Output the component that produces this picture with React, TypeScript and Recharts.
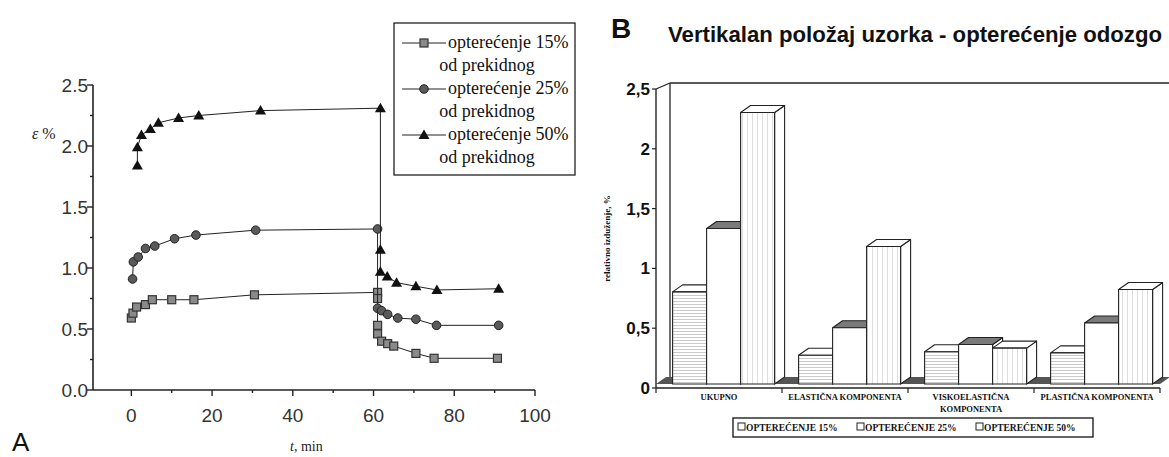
import React from "react";
import { ScatterChart, Scatter, XAxis, YAxis, BarChart, Bar } from "recharts";

// ---- A: deformation vs. time
const T_15 = [0, 0.4, 1.3, 3.5, 5.2, 10, 15.5, 30.5, 61, 61, 61, 61, 62, 63.5, 65, 70.5, 75, 90.7];
const E_15 = [0.59, 0.63, 0.68, 0.7, 0.74, 0.74, 0.74, 0.78, 0.8, 0.75, 0.53, 0.46, 0.4, 0.38, 0.36, 0.3, 0.26, 0.26];

const T_25 = [0.3, 0.5, 1.7, 3.5, 5.8, 10.7, 16, 30.8, 61, 61, 62, 63.5, 66, 70.5, 75.6, 91];
const E_25 = [0.91, 1.05, 1.09, 1.16, 1.18, 1.24, 1.27, 1.31, 1.32, 0.67, 0.65, 0.62, 0.59, 0.58, 0.53, 0.53];

const T_50 = [1.5, 1.5, 2.5, 4.7, 6.7, 11.7, 16.7, 32, 61.7, 61.7, 61.7, 63.4, 65.7, 70.5, 75.7, 91];
const E_50 = [1.84, 1.99, 2.09, 2.14, 2.19, 2.23, 2.25, 2.29, 2.31, 1.15, 0.97, 0.93, 0.88, 0.85, 0.82, 0.83];

const LABELS_A = ["opterećenje 15%", "opterećenje 25%", "opterećenje 50%"];
const MARKERS_A = ["square", "circle", "triangle"];

const X_TICKS_A = [0, 10, 20, 30, 40, 50, 60, 70, 80, 90, 100];
const X_LABELS_A = [0, 20, 40, 60, 80, 100];
const Y_TICKS_A = [0, 0.25, 0.5, 0.75, 1, 1.25, 1.5, 1.75, 2, 2.25, 2.5];
const Y_LABELS_A = [0, 0.5, 1, 1.5, 2, 2.5];

// ---- B: relative strain components
const CATEGORIES = ["UKUPNO", "ELASTIČNA KOMPONENTA", "VISKOELASTIČNA KOMPONENTA", "PLASTIČNA KOMPONENTA"];
const CATEGORY_LINES = [["UKUPNO"], ["ELASTIČNA KOMPONENTA"], ["VISKOELASTIČNA", "KOMPONENTA"], ["PLASTIČNA KOMPONENTA"]];
const LOAD_15 = [0.77, 0.24, 0.27, 0.26];
const LOAD_25 = [1.3, 0.47, 0.33, 0.51];
const LOAD_50 = [2.27, 1.15, 0.3, 0.79];
const LABELS_B = ["OPTEREĆENJE 15%", "OPTEREĆENJE 25%", "OPTEREĆENJE 50%"];
const Y_TICKS_B = [0, 0.5, 1, 1.5, 2, 2.5];

const SANS = "'Liberation Sans', Arial, sans-serif";
const SERIF = "'Liberation Serif', 'Times New Roman', serif";
const INK = "#222";

const seriesA = [T_15, T_25, T_50].map((ts, i) =>
  ts.map((t, j) => ({ t, e: [E_15, E_25, E_50][i][j] }))
);

const dataB = CATEGORIES.map((name, i) => ({
  name,
  s15: LOAD_15[i],
  s25: LOAD_25[i],
  s50: LOAD_50[i],
}));

// layout
const A_W = 580;
const A_H = 457;
const A_MARGIN = { top: 85, right: 45, bottom: 37, left: 33 };

const B_LEFT = 580;
const B_W = 589;
const B_H = 457;
const B_MARGIN = { top: 89, right: 9, bottom: 39, left: 20 };
const B_YW = 56;
const B_XH = 30;
const B_L = B_LEFT + B_MARGIN.left + B_YW;
const B_R = B_LEFT + B_W - B_MARGIN.right;
const B_T = B_MARGIN.top;
const B_B = B_H - B_MARGIN.bottom - B_XH;
const BAND_B = (B_R - B_L) / CATEGORIES.length;

function marker(kind: string, cx: number, cy: number) {
  if (kind === "square")
    return <rect x={cx - 4} y={cy - 4} width={8} height={8} fill="#8a8a8a" stroke="#333" strokeWidth={1.2} />;
  if (kind === "circle")
    return <circle cx={cx} cy={cy} r={4.3} fill="#5a5a5a" stroke="#222" strokeWidth={1} />;
  return <polygon points={`${cx},${cy - 5.5} ${cx + 5.5},${cy + 4} ${cx - 5.5},${cy + 4}`} fill="#111" />;
}

function TickXA(props: any) {
  const { x, y, payload } = props;
  const major = X_LABELS_A.includes(payload.value);
  return (
    <g>
      <line x1={x} y1={y} x2={x} y2={y + (major ? 6 : 3)} stroke={INK} strokeWidth={1.4} />
      {major && (
        <text x={x} y={y + 32} textAnchor="middle" fontSize={19} fill="#333" fontFamily={SANS}>
          {payload.value}
        </text>
      )}
    </g>
  );
}

function TickYA(props: any) {
  const { x, y, payload } = props;
  const major = Y_LABELS_A.includes(payload.value);
  return (
    <g>
      <line x1={x - (major ? 6 : 3)} y1={y} x2={x} y2={y} stroke={INK} strokeWidth={1.4} />
      {major && (
        <text x={x - 5} y={y + 7} textAnchor="end" fontSize={19} fill="#333" fontFamily={SANS}>
          {payload.value.toFixed(1)}
        </text>
      )}
    </g>
  );
}

function TickXB(props: any) {
  const { x, y, index } = props;
  const lines = CATEGORY_LINES[index] || [];
  return (
    <g>
      <line x1={x - BAND_B / 2} y1={y} x2={x - BAND_B / 2} y2={y + 5} stroke={INK} strokeWidth={1.2} />
      {index === CATEGORIES.length - 1 && (
        <line x1={x + BAND_B / 2} y1={y} x2={x + BAND_B / 2} y2={y + 5} stroke={INK} strokeWidth={1.2} />
      )}
      {lines.map((s, k) => (
        <text key={k} x={x} y={y + 12 + k * 12} textAnchor="middle" fontSize={8.5} fontWeight="bold" fill="#111" fontFamily={SERIF}>
          {s}
        </text>
      ))}
    </g>
  );
}

function TickYB(props: any) {
  const { x, y, payload } = props;
  return (
    <g>
      <line x1={x - 4} y1={y} x2={x} y2={y} stroke={INK} strokeWidth={1.2} />
      <text x={x - 6} y={y + 6} textAnchor="end" fontSize={17} fontWeight="bold" fill="#111" fontFamily={SANS}>
        {String(payload.value).replace(".", ",")}
      </text>
    </g>
  );
}

// pseudo-3D box, like the old spreadsheet chart
const LIFT = 4;
const SHIFT = 4;
const DX = 10;
const DY = 7;

function makeBox(front: string, top: string) {
  return (p: any) => {
    const { x, y, width: w, height: h } = p;
    if (w == null || h == null) return <g />;
    const fx = x + SHIFT;
    const fy = y - LIFT;
    return (
      <g stroke={INK} strokeWidth={1.1} strokeLinejoin="round">
        <polygon points={`${fx + w},${fy} ${fx + w + DX},${fy - DY} ${fx + w + DX},${fy + h - DY} ${fx + w},${fy + h}`} fill="#fff" />
        <polygon points={`${fx},${fy} ${fx + DX},${fy - DY} ${fx + w + DX},${fy - DY} ${fx + w},${fy}`} fill={top} />
        <rect x={fx} y={fy} width={w} height={h} fill={front} />
      </g>
    );
  };
}

const BOX_15 = makeBox("url(#hatchH)", "#fff");
const BOX_25 = makeBox("#fff", "#7a7a7a");
const BOX_50 = makeBox("url(#hatchV)", "#fff");

export default function App() {
  return (
    <div style={{ position: "absolute", left: 0, top: 0, width: 1169, height: 457, background: "#fff", overflow: "hidden" }}>
      {/* back frame of the 3D chart */}
      <svg width={1169} height={457} style={{ position: "absolute", left: 0, top: 0 }}>
        <polygon
          points={`${B_L},${B_B - LIFT} ${B_R},${B_B - LIFT} ${B_R + DX},${B_B - LIFT - DY} ${B_L + DX},${B_B - LIFT - DY}`}
          fill="#555"
        />
        <g stroke={INK} strokeWidth={1.3} fill="none">
          <line x1={B_L} y1={B_T} x2={B_L + 14} y2={B_T - 6} />
          <line x1={B_L + 14} y1={B_T - 6} x2={1169} y2={B_T - 6} />
          <line x1={B_L + 14} y1={B_T - 6} x2={B_L + 14} y2={B_B - LIFT - DY} />
        </g>
      </svg>

      <div style={{ position: "absolute", left: 0, top: 0 }}>
        <ScatterChart width={A_W} height={A_H} margin={A_MARGIN}>
          <XAxis
            type="number"
            dataKey="t"
            domain={[-9.5, 100]}
            ticks={X_TICKS_A}
            interval={0}
            height={30}
            tickLine={false}
            tickSize={0}
            tickMargin={0}
            tick={<TickXA />}
            axisLine={{ stroke: INK, strokeWidth: 1.6 }}
          />
          <YAxis
            type="number"
            dataKey="e"
            domain={[0, 2.5]}
            ticks={Y_TICKS_A}
            interval={0}
            width={60}
            tickLine={false}
            tickSize={0}
            tickMargin={0}
            tick={<TickYA />}
            axisLine={{ stroke: INK, strokeWidth: 1.6 }}
          />
          {seriesA.map((d, i) => (
            <Scatter
              key={i}
              name={LABELS_A[i]}
              data={d}
              fill="#222"
              line={{ stroke: "#222", strokeWidth: 1 }}
              lineType="joint"
              shape={(p: any) => marker(MARKERS_A[i], p.cx, p.cy)}
              isAnimationActive={false}
            />
          ))}
        </ScatterChart>
      </div>

      <div style={{ position: "absolute", left: B_LEFT, top: 0 }}>
        <BarChart width={B_W} height={B_H} data={dataB} margin={B_MARGIN} barCategoryGap="10%" barGap={0}>
          <defs>
            <pattern id="hatchH" width={4} height={3} patternUnits="userSpaceOnUse">
              <rect width={4} height={3} fill="#fff" />
              <line x1={0} y1={1.5} x2={4} y2={1.5} stroke="#bdbdbd" strokeWidth={0.8} />
            </pattern>
            <pattern id="hatchV" width={5} height={4} patternUnits="userSpaceOnUse">
              <rect width={5} height={4} fill="#fff" />
              <line x1={2.5} y1={0} x2={2.5} y2={4} stroke="#d4d4d4" strokeWidth={0.8} />
            </pattern>
          </defs>
          <XAxis
            dataKey="name"
            interval={0}
            height={B_XH}
            tickLine={false}
            tickSize={0}
            tickMargin={0}
            tick={<TickXB />}
            axisLine={{ stroke: INK, strokeWidth: 1.4 }}
          />
          <YAxis
            domain={[0, 2.5]}
            ticks={Y_TICKS_B}
            interval={0}
            width={B_YW}
            tickLine={false}
            tickSize={0}
            tickMargin={0}
            tick={<TickYB />}
            axisLine={{ stroke: INK, strokeWidth: 1.4 }}
          />
          <Bar dataKey="s15" shape={BOX_15} isAnimationActive={false} />
          <Bar dataKey="s25" shape={BOX_25} isAnimationActive={false} />
          <Bar dataKey="s50" shape={BOX_50} isAnimationActive={false} />
        </BarChart>
      </div>

      {/* titles, axis names, legends */}
      <svg width={1169} height={457} style={{ position: "absolute", left: 0, top: 0, pointerEvents: "none" }}>
        <text x={32} y={139} fontSize={16} fontFamily={SERIF} fill="#222">
          <tspan fontStyle="italic">ε</tspan> %
        </text>
        <text x={290} y={451} fontSize={14} fontFamily={SERIF} fill="#222">
          <tspan fontStyle="italic">t</tspan>, min
        </text>
        <text x={12} y={451} fontSize={26} fontFamily={SANS} fill="#111">A</text>

        <rect x={394} y={23} width={181} height={152} fill="#fff" stroke={INK} strokeWidth={1.3} />
        {LABELS_A.map((label, i) => {
          const cy = 43 + 46 * i;
          return (
            <g key={i}>
              <line x1={402} y1={cy} x2={446} y2={cy} stroke={INK} strokeWidth={1.2} />
              {marker(MARKERS_A[i], 424, cy)}
              <text x={448} y={cy + 5} fontSize={18} fontFamily={SERIF} fill="#111">{label}</text>
              <text x={487} y={cy + 28} textAnchor="middle" fontSize={18} fontFamily={SERIF} fill="#111">od prekidnog</text>
            </g>
          );
        })}

        <text x={611} y={38} fontSize={28} fontWeight="bold" fontFamily={SANS} fill="#111">B</text>
        <text x={668} y={42} fontSize={22} fontWeight="bold" fontFamily={SANS} fill="#111" textLength={494} lengthAdjust="spacingAndGlyphs">
          Vertikalan položaj uzorka - opterećenje odozgo
        </text>
        <text
          transform={`translate(610, ${(B_T + B_B) / 2}) rotate(-90)`}
          textAnchor="middle"
          fontSize={9}
          fontWeight="bold"
          fontFamily={SERIF}
          fill="#111"
        >
          relativno izduženje, %
        </text>

        <rect x={733} y={418} width={360} height={19} fill="#fff" stroke={INK} strokeWidth={1.4} />
        {LABELS_B.map((label, i) => {
          const lx = 738 + i * 119;
          return (
            <g key={i}>
              <rect x={lx} y={423} width={7} height={7} fill="#fff" stroke={INK} strokeWidth={1} />
              <text x={lx + 8} y={431} fontSize={9.5} fontWeight="bold" fontFamily={SERIF} fill="#111">{label}</text>
            </g>
          );
        })}
      </svg>
    </div>
  );
}
